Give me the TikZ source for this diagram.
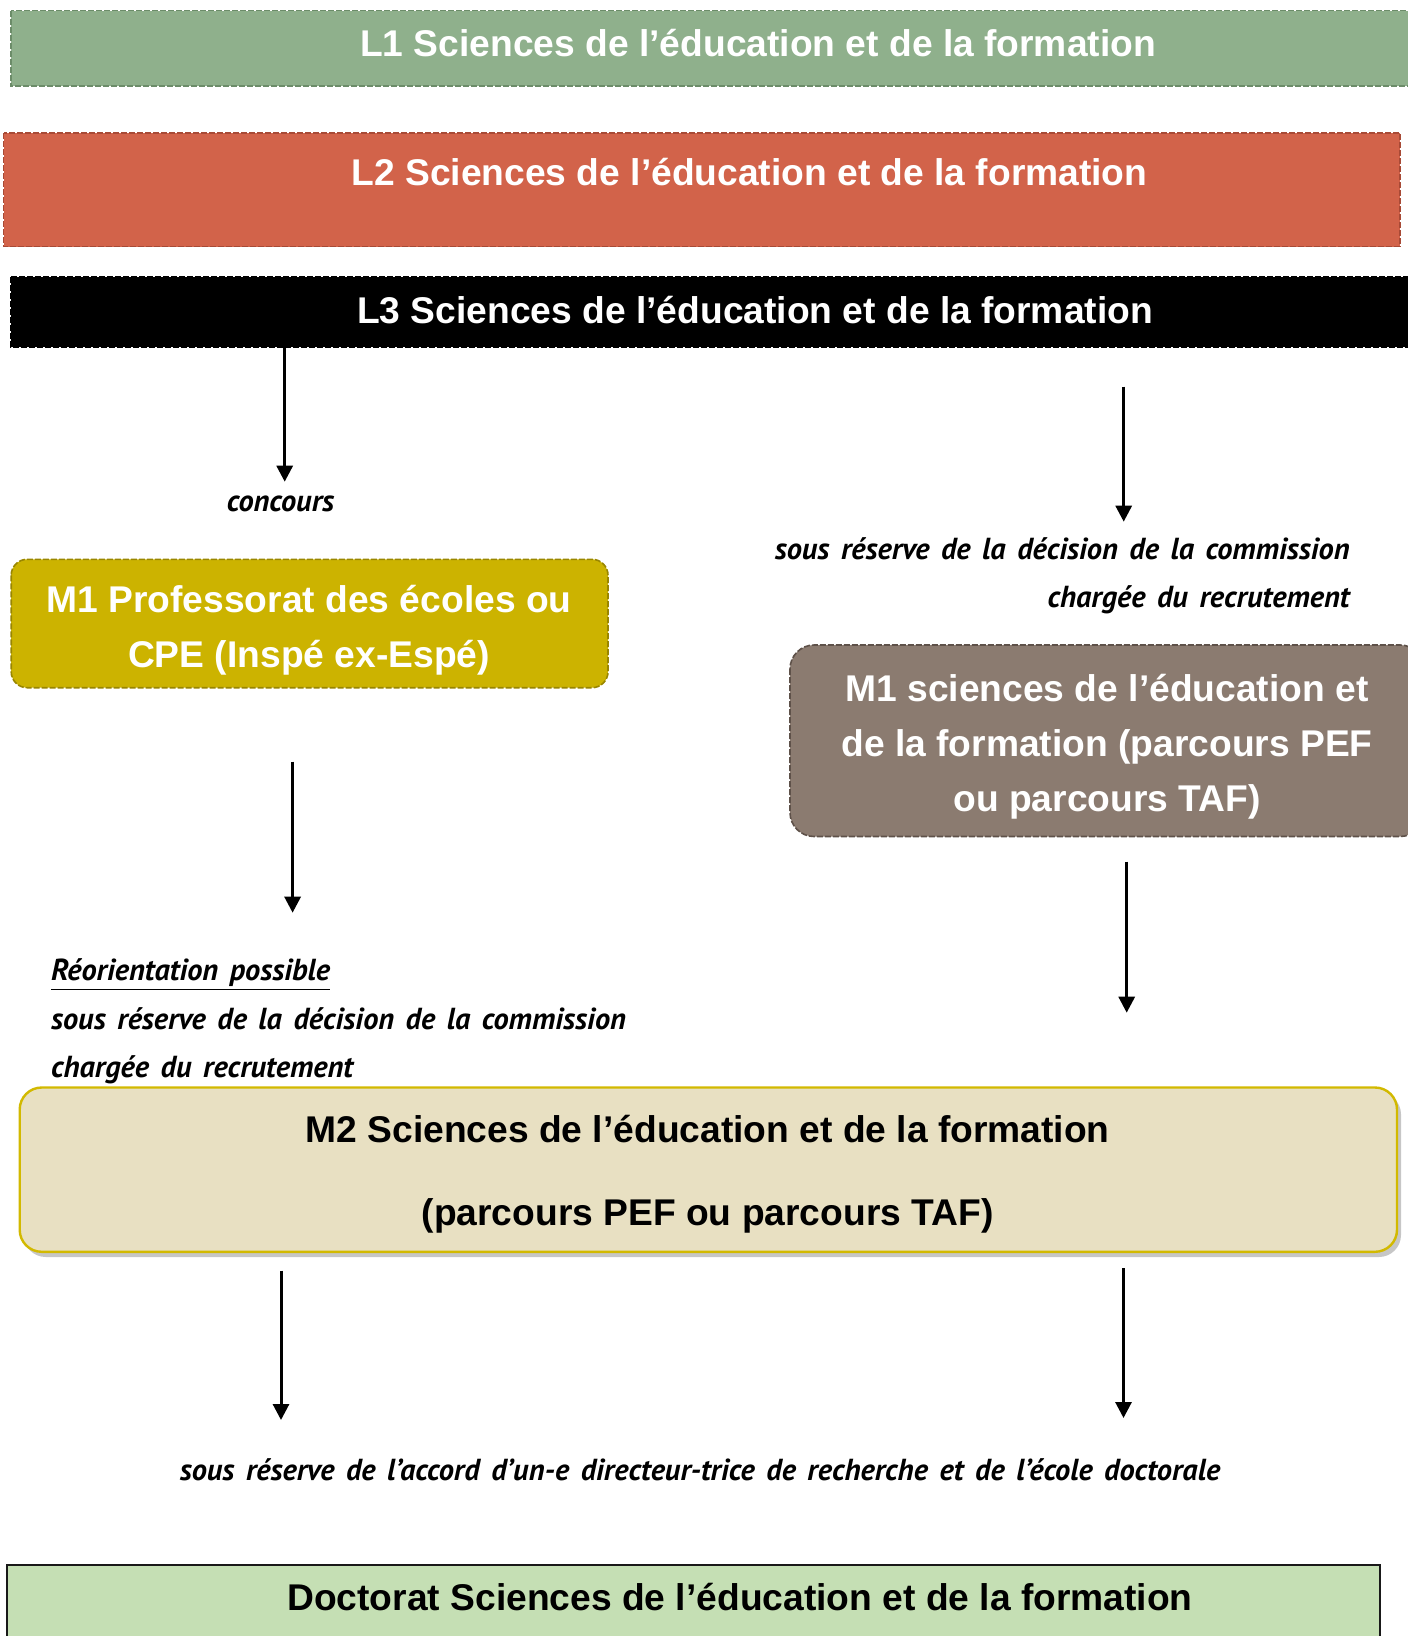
\documentclass[tikz,border=0pt]{standalone}
\usepackage{fontspec}
\setmainfont{Liberation Sans}
\newfontfamily\notefont{PT Sans}[WordSpace=1.5]
\usetikzlibrary{arrows.meta}
\definecolor{lonefill}{HTML}{8FB08C}
\definecolor{loneline}{HTML}{6C8C69}
\definecolor{ltwofill}{HTML}{D2634A}
\definecolor{ltwoline}{HTML}{A84A36}
\definecolor{mpefill}{HTML}{CCB300}
\definecolor{mpeline}{HTML}{998600}
\definecolor{msefill}{HTML}{8B7B70}
\definecolor{mseline}{HTML}{5E5149}
\definecolor{mtwofill}{HTML}{E8E0C2}
\definecolor{mtwoline}{HTML}{D2B900}
\definecolor{docfill}{HTML}{C5DFB4}

\begin{document}
\begin{tikzpicture}[x=0.5pt, y=-0.5pt,
  >={Triangle[length=8pt,width=8pt]},
  bar/.style={line width=0.8pt, dash pattern=on 3pt off 1pt},
  title/.style={font=\bfseries\fontsize{18.6}{27.5}\selectfont, align=center, inner sep=0pt},
  note/.style={font=\notefont\bfseries\itshape\fontsize{15.2}{24.3}\selectfont, inner sep=0pt},
  flow/.style={->, line width=1.5pt}]

\useasboundingbox (0,0) rectangle (1407,1636);

% licence
\draw[bar, fill=lonefill, draw=loneline] (10.7,10.7) rectangle (1505,86);
\draw (758,43.3) node[title, white] (lone) {L1 Sciences de l’éducation et de la formation};

\draw[bar, fill=ltwofill, draw=ltwoline] (3.6,133.3) rectangle (1400,246.7);
\draw (749.5,171.7) node[title, white] (ltwo) {L2 Sciences de l’éducation et de la formation};

\draw[bar, fill=black, draw=black] (10.8,277.3) rectangle (1500,347.3);
\draw (755,310) node[title, white] (lthree) {L3 Sciences de l’éducation et de la formation};

% master 1
\draw[bar, fill=mpefill, draw=mpeline, rounded corners=8pt] (11.2,559.3) rectangle (608,687.7);
\draw (309,630.5) node[title, white] (mpe) {M1 Professorat des écoles ou\\CPE (Inspé ex-Espé)};

\draw[bar, fill=msefill, draw=mseline, rounded corners=12pt] (790,645) rectangle (1424,836.5);
\draw (1107,747) node[title, white, font=\bfseries\fontsize{18.6}{27.6}\selectfont] (mse) {M1 sciences de l’éducation et\\de la formation (parcours PEF\\ou parcours TAF)};

% master 2
\fill[gray!45, rounded corners=11pt] (23.7,1092.4) rectangle (1401,1257);
\draw[fill=mtwofill, draw=mtwoline, line width=1.2pt, rounded corners=11pt] (19.7,1087.5) rectangle (1397,1251.8);
\draw (707.6,1174) node[title, font=\bfseries\fontsize{18.6}{41.3}\selectfont] (mtwo) {M2 Sciences de l’éducation et de la formation\\(parcours PEF ou parcours TAF)};

% doctorat
\draw[fill=docfill, draw=black!90, line width=1pt] (7.2,1565) rectangle (1380.3,1700);
\draw (740,1597.5) node[title] (doc) {Doctorat Sciences de l’éducation et de la formation};

% notes
\draw (280.5,511.7) node[note, anchor=base] (concours) {concours};
\draw (1350,537) node[note, align=right, anchor=north east] (commright) {sous réserve de la décision de la commission\\chargée du recrutement};
\draw (50.7,958.5) node[note, align=left, anchor=north west] (commleft) {\underline{Réorientation possible}\\sous réserve de la décision de la commission\\chargée du recrutement};
\draw (700,1480) node[note, anchor=base] (accord) {sous réserve de l’accord d’un-e directeur-trice de recherche et de l’école doctorale};

% arrows
\coordinate (aone) at (284.7,347.3);
\coordinate (aonetip) at (284.7,481.7);
\coordinate (atwo) at (1123.7,386.7);
\coordinate (atwotip) at (1123.7,521.7);
\coordinate (athree) at (292.6,761.7);
\coordinate (athreetip) at (292.6,912.7);
\coordinate (afour) at (1126.7,861.7);
\coordinate (afourtip) at (1126.7,1012.7);
\coordinate (afive) at (281,1270.5);
\coordinate (afivetip) at (281,1420);
\coordinate (asix) at (1123.5,1268);
\coordinate (asixtip) at (1123.5,1418);

\draw[flow] (aone) -- (aonetip);
\draw[flow] (atwo) -- (atwotip);
\draw[flow] (athree) -- (athreetip);
\draw[flow] (afour) -- (afourtip);
\draw[flow] (afive) -- (afivetip);
\draw[flow] (asix) -- (asixtip);

\end{tikzpicture}
\end{document}
